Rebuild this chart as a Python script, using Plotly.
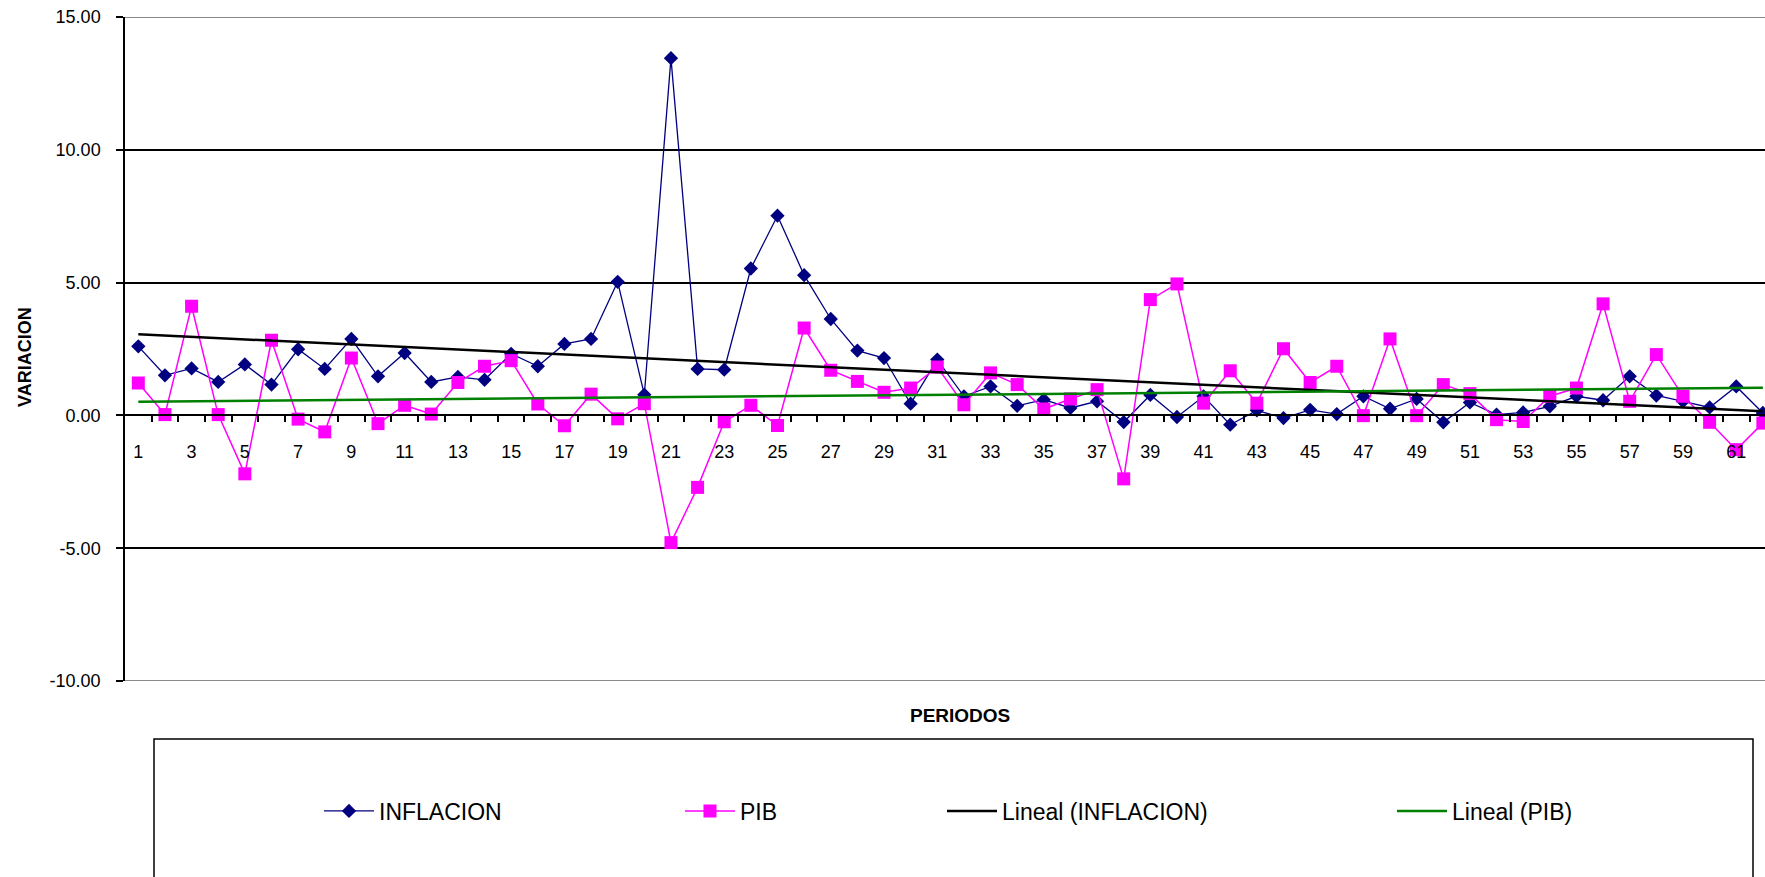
import numpy as np
import plotly.graph_objects as go

# Periods 1..62
periodos = list(range(1, 63))

inflacion = [
    2.60, 1.51, 1.77, 1.26, 1.92, 1.16, 2.49, 1.75, 2.88, 1.47,
    2.35, 1.26, 1.45, 1.34, 2.32, 1.85, 2.69, 2.88, 5.03, 0.78,
    13.45, 1.75, 1.72, 5.53, 7.52, 5.28, 3.63, 2.44, 2.16, 0.44,
    2.10, 0.72, 1.09, 0.36, 0.59, 0.28, 0.53, -0.25, 0.77, -0.06,
    0.72, -0.35, 0.19, -0.10, 0.21, 0.05, 0.72, 0.25, 0.62, -0.26,
    0.49, 0.03, 0.11, 0.34, 0.72, 0.57, 1.47, 0.75, 0.53, 0.30,
    1.09, 0.09,
]

pib = [
    1.22, 0.03, 4.11, 0.03, -2.20, 2.83, -0.14, -0.62, 2.16, -0.31,
    0.38, 0.05, 1.24, 1.85, 2.06, 0.43, -0.39, 0.80, -0.13, 0.44,
    -4.79, -2.71, -0.24, 0.38, -0.38, 3.29, 1.70, 1.28, 0.87, 1.03,
    1.82, 0.40, 1.60, 1.16, 0.24, 0.62, 0.97, -2.39, 4.36, 4.95,
    0.46, 1.68, 0.46, 2.51, 1.24, 1.85, -0.01, 2.88, -0.01, 1.16,
    0.82, -0.16, -0.23, 0.72, 1.03, 4.20, 0.53, 2.29, 0.72, -0.26,
    -1.29, -0.29,
]

y_ticks = [-10, -5, 0, 5, 10, 15]
y_tick_labels = ["%.2f" % v for v in y_ticks]   # plain hyphen for negatives
x_tick_labels = [str(k) for k in range(1, 62, 2)]

# Least-squares linear trends ("Lineal")
x = np.array(periodos, dtype=float)
fit_inf = np.polyfit(x, np.array(inflacion), 1)
fit_pib = np.polyfit(x, np.array(pib), 1)
trend_inf = np.polyval(fit_inf, x)
trend_pib = np.polyval(fit_pib, x)

FONT = "Liberation Sans, Arial, sans-serif"

fig = go.Figure()
fig.add_trace(go.Scatter(
    x=periodos, y=inflacion, name="INFLACION", mode="lines+markers",
    line=dict(color="#000080", width=1.3),
    marker=dict(symbol="diamond", size=11, color="#000080"),
    legend="legend",
))
fig.add_trace(go.Scatter(
    x=periodos, y=pib, name="PIB", mode="lines+markers",
    line=dict(color="#FF00FF", width=1.5),
    marker=dict(symbol="square", size=13, color="#FF00FF"),
    legend="legend2",
))
fig.add_trace(go.Scatter(
    x=periodos, y=trend_inf, name="Lineal (INFLACION)", mode="lines",
    line=dict(color="#000000", width=2.5),
    legend="legend3",
))
fig.add_trace(go.Scatter(
    x=periodos, y=trend_pib, name="Lineal (PIB)", mode="lines",
    line=dict(color="#008000", width=2.5),
    legend="legend4",
))

W, H = 1765, 877
ML, MR, MT, MB = 125, 0, 17, 196
PW, PH = W - ML - MR, H - MT - MB


def px_x(p):
    return (p - ML) / PW


def px_y(p):
    return (H - MB - p) / PH


leg_common = dict(
    orientation="h", yanchor="middle", xanchor="left",
    y=px_y(811), font=dict(family=FONT, size=23, color="#000000"),
    bgcolor="rgba(0,0,0,0)", borderwidth=0, itemwidth=50,
)

fig.update_layout(
    width=W, height=H,
    margin=dict(l=ML, r=MR, t=MT, b=MB),
    paper_bgcolor="white", plot_bgcolor="white",
    font=dict(family=FONT, color="#000000"),
    showlegend=True,
    legend=dict(x=px_x(319), **leg_common),
    legend2=dict(x=px_x(680), **leg_common),
    legend3=dict(x=px_x(942), **leg_common),
    legend4=dict(x=px_x(1392), **leg_common),
    xaxis=dict(
        range=[0.5, 62.08],
        anchor="free", position=0.4,
        showline=True, linecolor="#000000", linewidth=1.5,
        showgrid=False, zeroline=False,
        tickmode="array", tickvals=list(range(1, 62, 2)), ticktext=x_tick_labels,
        ticks="outside", ticklen=6, tickcolor="rgba(0,0,0,0)",
        ticklabelstandoff=14,
        tickfont=dict(family=FONT, size=18, color="#000000"),
        minor=dict(
            tickmode="array", tickvals=[k + 0.5 for k in range(1, 62)],
            ticks="outside", ticklen=6, tickwidth=1.5, tickcolor="#000000",
            showgrid=False,
        ),
    ),
    yaxis=dict(
        range=[-10, 15],
        tickmode="array", tickvals=y_ticks, ticktext=y_tick_labels,
        showline=True, linecolor="#000000", linewidth=1.5,
        showgrid=True, gridcolor="#000000", gridwidth=1.5,
        zeroline=False,
        ticks="outside", ticklen=7, tickwidth=1.5, tickcolor="#000000",
        ticklabelstandoff=12,
        tickfont=dict(family=FONT, size=18, color="#000000"),
    ),
    shapes=[
        # plot-area border (top and bottom edges)
        dict(type="line", xref="paper", yref="y", x0=0, x1=1, y0=15, y1=15,
             line=dict(color="#8a8a8a", width=2), layer="above"),
        dict(type="line", xref="paper", yref="y", x0=0, x1=1, y0=-10, y1=-10,
             line=dict(color="#8a8a8a", width=2), layer="above"),
        # legend frame
        dict(type="rect", xref="paper", yref="paper",
             x0=px_x(154), x1=px_x(1753), y0=px_y(885), y1=px_y(739),
             line=dict(color="#000000", width=1.5), fillcolor="rgba(0,0,0,0)"),
    ],
    annotations=[
        dict(text="<b>VARIACION</b>", textangle=-90, xref="paper", yref="paper",
             x=px_x(25), y=px_y(357), showarrow=False,
             xanchor="center", yanchor="middle",
             font=dict(family=FONT, size=18, color="#000000")),
        dict(text="<b>PERIODOS</b>", xref="paper", yref="paper",
             x=px_x(960), y=px_y(715), showarrow=False,
             xanchor="center", yanchor="middle",
             font=dict(family=FONT, size=19, color="#000000")),
    ],
)

fig.write_html("out.html")
